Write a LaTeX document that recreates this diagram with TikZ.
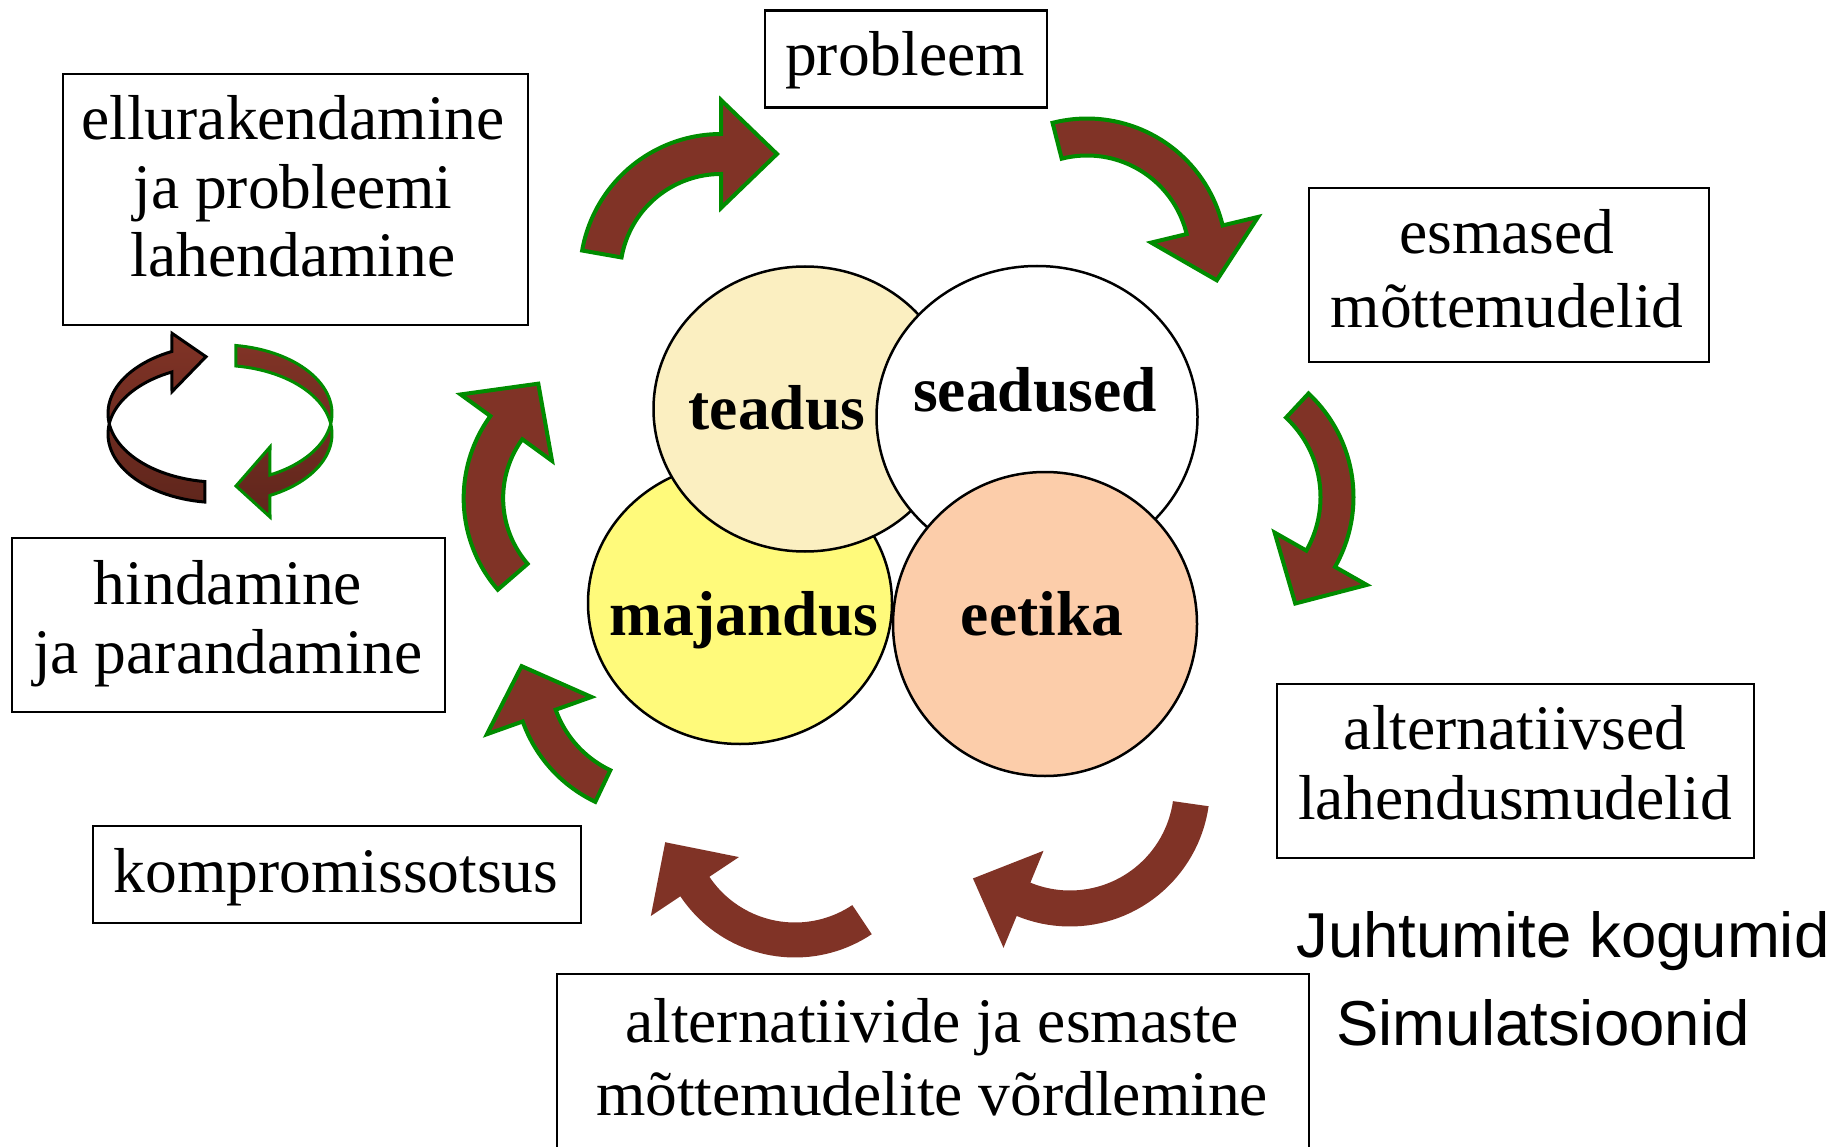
\documentclass[tikz,border=0pt]{standalone}
\usepackage{fontspec}
\setmainfont{Liberation Serif}
\newfontfamily\labelsans{Liberation Sans}
\usetikzlibrary{shapes.geometric}

\definecolor{arrowbrown}{RGB}{128,51,38}
\definecolor{arrowdark}{RGB}{96,38,28}
\definecolor{arrowedge}{RGB}{0,140,0}
\definecolor{sciencefill}{RGB}{251,239,193}
\definecolor{economyfill}{RGB}{255,250,123}
\definecolor{ethicsfill}{RGB}{252,205,170}

% Curved block arrow along a circular arc.
% #1 style, #2 #3 centre, #4 mid radius, #5 band width,
% #6 tail angle, #7 head angle, #8 head half width, #9 head length
\newcommand\bentarrow[9]{%
  \pgfmathsetmacro\baRo{#4+#5/2}%
  \pgfmathsetmacro\baRi{#4-#5/2}%
  \pgfmathsetmacro\baHo{#4+#8}%
  \pgfmathsetmacro\baHi{#4-#8}%
  \pgfmathsetmacro\baSg{(#7>#6)?1:-1}%
  \pgfmathsetmacro\baL{\baSg*#9}%
  \pgfmathsetmacro\baTx{#2+#4*cos(#7)-(\baL)*sin(#7)}%
  \pgfmathsetmacro\baTy{#3+#4*sin(#7)+(\baL)*cos(#7)}%
  \path[#1] plot[domain=#6:#7,samples=40] ({#2+\baRo*cos(\x)},{#3+\baRo*sin(\x)})
    -- ({#2+\baHo*cos(#7)},{#3+\baHo*sin(#7)})
    -- (\baTx,\baTy)
    -- ({#2+\baHi*cos(#7)},{#3+\baHi*sin(#7)})
    -- plot[domain=#7:#6,samples=40] ({#2+\baRi*cos(\x)},{#3+\baRi*sin(\x)})
    -- cycle;}

\begin{document}
\begin{tikzpicture}[x=1pt,y=-1pt,
  stagebox/.style={draw=black,line width=2.5,rectangle,inner sep=0,fill=white},
  boxtext/.style={font=\fontsize{63.5}{69}\selectfont,anchor=base,inner sep=0},
  ringtext/.style={font=\fontsize{63.5}{69}\selectfont\bfseries,anchor=base,inner sep=0},
  sidetext/.style={font=\labelsans\fontsize{63.5}{69}\selectfont,anchor=base,inner sep=0},
  fieldshape/.style={ellipse,draw=black,line width=2.5,inner sep=0},
  greenarrow/.style={fill=arrowbrown,draw=arrowedge,line width=4},
  plainarrow/.style={fill=arrowbrown},
  ringarrow/.style={top color=arrowbrown,middle color=arrowbrown,bottom color=arrowdark,line width=3},
]
\useasboundingbox (0,0) rectangle (1842,1147);
\clip (0,0) rectangle (1842,1147);

% stage boxes
\node[stagebox,minimum width=282,minimum height=97] (probleem) at (906,59) {};
\node[stagebox,minimum width=465,minimum height=251] (ellu) at (295.5,199.5) {};
\node[stagebox,minimum width=400,minimum height=174] (esmased) at (1509,275) {};
\node[stagebox,minimum width=433,minimum height=174] (hindamine) at (228.5,625) {};
\node[stagebox,minimum width=477,minimum height=174] (alternatiivsed) at (1515.5,771) {};
\node[stagebox,minimum width=488,minimum height=97] (kompromiss) at (337,874.5) {};
\node[stagebox,minimum width=752,minimum height=200] (vordlemine) at (933,1074) {};

% box texts
\node[boxtext] (t-probleem) at (905,76) {probleem};
\node[boxtext] (t-ellu1) at (293,140) {ellurakendamine};
\node[boxtext] (t-ellu2) at (293,209) {ja probleemi};
\node[boxtext] (t-ellu3) at (293,277) {lahendamine};
\node[boxtext] (t-esm1) at (1507,254) {esmased};
\node[boxtext] (t-esm2) at (1507,328) {mõttemudelid};
\node[boxtext] (t-hind1) at (228,604) {hindamine};
\node[boxtext] (t-hind2) at (228,673) {ja parandamine};
\node[boxtext] (t-alt1) at (1515,749) {alternatiivsed};
\node[boxtext] (t-alt2) at (1515,819) {lahendusmudelid};
\node[boxtext] (t-komp) at (336,892) {kompromissotsus};
\node[boxtext] (t-vord1) at (932,1042) {alternatiivide ja esmaste};
\node[boxtext] (t-vord2) at (932,1115) {mõttemudelite võrdlemine};

% side notes
\node[sidetext] (juhtumid) at (1563,957) {Juhtumite kogumid};
\node[sidetext] (simul) at (1543,1045) {Simulatsioonid};

% four overlapping fields
\node[fieldshape,fill=economyfill,minimum width=304,minimum height=282] (majandus) at (740,603) {};
\node[fieldshape,fill=sciencefill,minimum width=303,minimum height=285] (teadus) at (805,409) {};
\node[fieldshape,fill=white,minimum width=321,minimum height=302] (seadused) at (1037,417) {};
\node[fieldshape,fill=ethicsfill,minimum width=304,minimum height=304] (eetika) at (1045,624) {};

\node[ringtext] (t-teadus) at (777,429) {teadus};
\node[ringtext] (t-seadused) at (1035,412) {seadused};
\node[ringtext] (t-majandus) at (744,635) {majandus};
\node[ringtext] (t-eetika) at (1042,635) {eetika};

% cycle of curved arrows
\bentarrow{greenarrow}{721}{275}{121}{40}{190}{270}{54}{56}
\bentarrow{greenarrow}{1087}{258}{121}{37}{255.7}{346.5}{55}{52}
\bentarrow{greenarrow}{1212}{497}{125}{33}{-47}{29.6}{53}{51.5}
\bentarrow{plainarrow}{1070}{786.5}{122}{36}{8.1}{112.4}{52.5}{54.7}
\bentarrow{plainarrow}{795}{819.5}{120.5}{35}{56.2}{146.2}{53}{53.3}
\bentarrow{greenarrow}{656}{674}{124}{35}{115.4}{160.4}{55.5}{52.5}
\bentarrow{greenarrow}{603.4}{498.2}{120}{39.5}{139.1}{216}{56.5}{54.4}

% small looping pair of ribbon arrows
\path[ringarrow,draw=black]
  plot[domain=97.7:244.6,samples=50] ({220+112*cos(\x)},{413.5+68.7*sin(\x)})
  -- (172,333.3) -- (206,356.7) -- (172,391.7)
  -- plot[domain=244.6:97.7,samples=50] ({220+112*cos(\x)},{434+68.7*sin(\x)})
  -- cycle;
\path[ringarrow,draw=arrowedge]
  plot[domain=278.2:423.5,samples=50] ({220+112*cos(\x)},{413.5+68.7*sin(\x)})
  -- (270,447) -- (236,486) -- (270,517)
  -- plot[domain=423.5:278.2,samples=50] ({220+112*cos(\x)},{434+68.7*sin(\x)})
  -- cycle;
\end{tikzpicture}
\end{document}
